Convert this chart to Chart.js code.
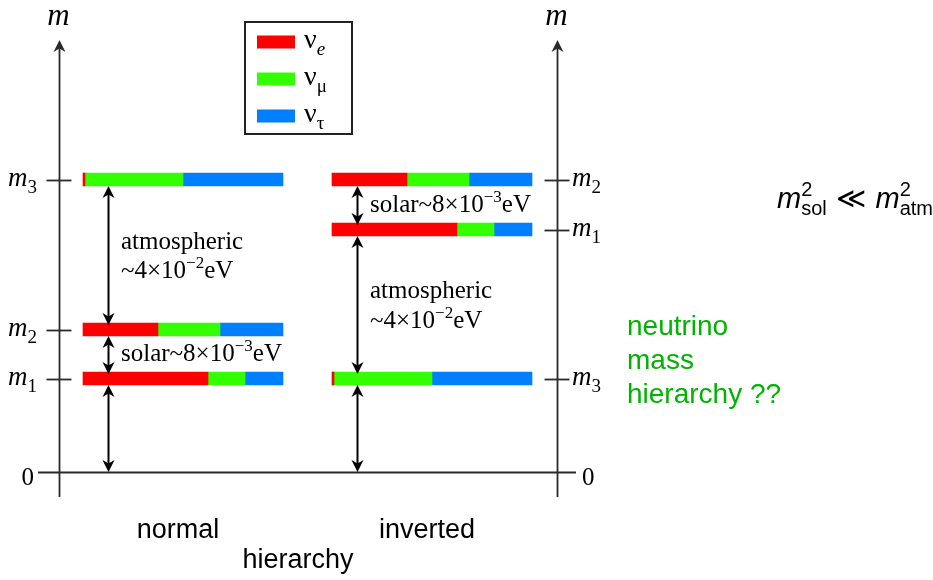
<!DOCTYPE html>
<html>
<head>
<meta charset="utf-8">
<script src="https://cdn.jsdelivr.net/npm/chart.js@4/dist/chart.umd.min.js"></script>
<style>
  html, body { margin: 0; padding: 0; background: #fff; }
  canvas { display: block; }
</style>
</head>
<body>
<canvas id="chart" width="933" height="580"></canvas>
<script>
// Mass eigenstates and their flavour content (fractions of each state sum to 1)
const states = ['1', '2', '3'];
const flavours = ['e', 'μ', 'τ'];
const nuE   = [0.625, 0.375, 0.01];
const nuMu  = [0.185, 0.31, 0.49];
const nuTau = [0.19, 0.315, 0.5];

// Schematic mass levels of m1, m2, m3 for each ordering
const orderings = ['normal', 'inverted'];
const normalLevels   = [0.935, 1.425, 2.925];
const invertedLevels = [2.425, 2.925, 0.935];

// Splitting labels
const solarLabel = ['solar~8×10', '−3', 'eV'];
const atmLabel = ['atmospheric', '~4×10', '−2', 'eV'];

// ---- layout / style ----
const flavourColors = ['#ff0000', '#33ff00', '#0080ff'];
const columnStart = [0.12, 1.365];   // left end of each column's bars (bar width = 1)
const arrowX = [0.245, 1.4925];      // splitting arrows
const axisX = [0, 2.49];             // mass axes
const BAR = 13;
const SERIF = '"Liberation Serif", "Times New Roman", serif';
const SANS = '"Liberation Sans", Arial, Helvetica, sans-serif';
const AXIS_COLOR = '#2a2a2a';

const fractions = [nuE, nuMu, nuTau];
const levelSets = [normalLevels, invertedLevels];

const datasets = flavours.map((f, k) => {
  const data = [];
  levelSets.forEach((levels, c) => {
    states.forEach((s, i) => {
      let a = columnStart[c];
      for (let j = 0; j < k; j++) a += fractions[j][i];
      data.push({ y: levels[i], x: [a, a + fractions[k][i]] });
    });
  });
  return {
    label: 'ν' + f,
    data,
    backgroundColor: flavourColors[k],
    borderWidth: 0,
    borderSkipped: false,
    barThickness: BAR,
    grouped: false
  };
});

// draw a sequence of text runs; a run with keep:true does not advance (stacked sup/sub)
function drawRuns(ctx, parts, x, y, align) {
  let total = 0, pend = 0;
  parts.forEach(p => {
    ctx.font = p.font;
    p.w = ctx.measureText(p.t).width;
    if (p.keep) pend = p.w; else { total += Math.max(p.w, pend); pend = 0; }
  });
  let cx = align === 'right' ? x - total : align === 'center' ? x - total / 2 : x;
  pend = 0;
  ctx.textAlign = 'left';
  ctx.textBaseline = 'alphabetic';
  parts.forEach(p => {
    ctx.font = p.font;
    ctx.fillStyle = p.color || '#000';
    ctx.fillText(p.t, cx, y + (p.dy || 0));
    if (p.keep) pend = p.w; else { cx += Math.max(p.w, pend); pend = 0; }
  });
}

function arrowHead(ctx, x, y, dir) { // dir -1: points up, +1: points down
  const L = 12, W = 6, N = 3.5;
  ctx.beginPath();
  ctx.moveTo(x, y);
  ctx.lineTo(x - W, y - dir * L);
  ctx.lineTo(x, y - dir * (L - N));
  ctx.lineTo(x + W, y - dir * L);
  ctx.closePath();
  ctx.fill();
}

function doubleArrow(ctx, x, yTop, yBot) {
  ctx.beginPath();
  ctx.moveTo(x, yTop + 7);
  ctx.lineTo(x, yBot - 7);
  ctx.stroke();
  arrowHead(ctx, x, yTop, -1);
  arrowHead(ctx, x, yBot, 1);
}

const serif = (s, it) => (it ? 'italic ' : '') + s + 'px ' + SERIF;
const sans = (s, it) => (it ? 'italic ' : '') + s + 'px ' + SANS;

const decor = {
  id: 'decor',
  afterDatasetsDraw(chart) {
    const ctx = chart.ctx;
    const xs = chart.scales.x, ys = chart.scales.y;
    const px = v => xs.getPixelForValue(v);
    const py = v => ys.getPixelForValue(v);
    const area = chart.chartArea;
    const zero = py(0);
    ctx.save();

    // mass axes with arrow tips
    ctx.strokeStyle = AXIS_COLOR;
    ctx.fillStyle = AXIS_COLOR;
    ctx.lineWidth = 1.8;
    axisX.forEach(v => {
      const x = Math.round(px(v)) + 0.5;
      ctx.strokeStyle = AXIS_COLOR;
      ctx.fillStyle = AXIS_COLOR;
      ctx.lineWidth = 1.8;
      ctx.beginPath();
      ctx.moveTo(x, area.bottom);
      ctx.lineTo(x, area.top + 6);
      ctx.stroke();
      arrowHead(ctx, x, area.top, -1);
      drawRuns(ctx, [{ t: 'm', font: serif(31, true) }], x - 1, area.top - 15, 'center');
    });
    // zero line
    ctx.strokeStyle = AXIS_COLOR;
    ctx.lineWidth = 1.8;
    ctx.beginPath();
    ctx.moveTo(area.left, Math.round(zero) + 0.5);
    ctx.lineTo(area.right, Math.round(zero) + 0.5);
    ctx.stroke();
    drawRuns(ctx, [{ t: '0', font: serif(25) }], px(axisX[0]) - 25, zero + 13, 'right');
    drawRuns(ctx, [{ t: '0', font: serif(25) }], px(axisX[1]) + 25, zero + 13, 'left');

    // level ticks and labels
    levelSets.forEach((levels, c) => {
      const ax = px(axisX[c]);
      levels.forEach((lv, i) => {
        const y = Math.round(py(lv)) + 0.5;
        ctx.strokeStyle = AXIS_COLOR;
        ctx.lineWidth = 1.8;
        ctx.beginPath();
        ctx.moveTo(ax - 12.5, y);
        ctx.lineTo(ax + 12.5, y);
        ctx.stroke();
        const parts = [
          { t: 'm', font: serif(27, true) },
          { t: states[i], font: serif(19), dy: 7 }
        ];
        if (c === 0) drawRuns(ctx, parts, ax - 22, y + 5.5, 'right');
        else drawRuns(ctx, parts, ax + 15, y + 5.5, 'left');
      });
    });

    // splitting arrows and their labels
    levelSets.forEach((levels, c) => {
      const x = Math.round(px(arrowX[c])) + 0.5;
      const sorted = levels.slice().sort((a, b) => a - b);
      const edges = [0].concat(sorted);
      for (let k = 0; k < 3; k++) {
        const lo = edges[k], hi = edges[k + 1];
        const yBot = k === 0 ? py(lo) : py(lo) - BAR / 2 + 2;
        const yTop = py(hi) + BAR / 2;
        ctx.strokeStyle = '#000';
        ctx.fillStyle = '#000';
        ctx.lineWidth = 2;
        doubleArrow(ctx, x, yTop, yBot);
        if (k === 0) continue;
        const mid = (yTop + yBot) / 2;
        const tx = x + 12.5;
        const gap = hi - lo;
        if (gap < 1) {
          drawRuns(ctx, [
            { t: solarLabel[0], font: serif(25) },
            { t: solarLabel[1], font: serif(17), dy: -10 },
            { t: solarLabel[2], font: serif(25) }
          ], tx, mid + 6, 'left');
        } else {
          drawRuns(ctx, [{ t: atmLabel[0], font: serif(25) }], tx, mid - 7, 'left');
          drawRuns(ctx, [
            { t: atmLabel[1], font: serif(25) },
            { t: atmLabel[2], font: serif(17), dy: -10 },
            { t: atmLabel[3], font: serif(25) }
          ], tx, mid + 22.5, 'left');
        }
      }
    });

    // flavour legend
    ctx.strokeStyle = '#222';
    ctx.lineWidth = 2;
    ctx.strokeRect(245, 22, 107, 112);
    chart.data.datasets.forEach((ds, k) => {
      const cy = 42 + k * 37;
      ctx.fillStyle = ds.backgroundColor;
      ctx.fillRect(257, cy - 6.5, 38, 13);
      drawRuns(ctx, [
        { t: ds.label.slice(0, 1), font: serif(28) },
        { t: ds.label.slice(1), font: serif(19, k === 0), dy: 7 }
      ], 304, cy + 6, 'left');
    });

    // column captions
    drawRuns(ctx, [{ t: orderings[0], font: sans(27) }], 178, 538, 'center');
    drawRuns(ctx, [{ t: orderings[1], font: sans(27) }], 427, 538, 'center');
    drawRuns(ctx, [{ t: 'hierarchy', font: sans(27) }], 298, 568, 'center');

    // side notes
    drawRuns(ctx, [
      { t: 'm', font: sans(29, true) },
      { t: '2', font: sans(20), dy: -12, keep: true },
      { t: 'sol', font: sans(20), dy: 7 },
      { t: ' ≪ ', font: '29px "DejaVu Sans", sans-serif' },
      { t: 'm', font: sans(29, true) },
      { t: '2', font: sans(20), dy: -12, keep: true },
      { t: 'atm', font: sans(20), dy: 7 }
    ], 777, 208, 'left');

    const green = '#00b300';
    ['neutrino', 'mass', 'hierarchy ??'].forEach((t, i) => {
      drawRuns(ctx, [{ t, font: sans(28), color: green }], 627, 335 + i * 34, 'left');
    });

    ctx.restore();
  }
};

new Chart(document.getElementById('chart').getContext('2d'), {
  type: 'bar',
  data: { datasets },
  options: {
    indexAxis: 'y',
    responsive: false,
    animation: false,
    devicePixelRatio: 1,
    layout: { padding: { left: 38, top: 40, right: 357, bottom: 83 } },
    scales: {
      x: { type: 'linear', min: -0.105, max: 2.585, display: false },
      y: { type: 'linear', min: -0.25, max: 4.32, display: false, offset: false }
    },
    plugins: {
      legend: { display: false },
      tooltip: { enabled: false }
    }
  },
  plugins: [decor]
});
</script>
</body>
</html>
